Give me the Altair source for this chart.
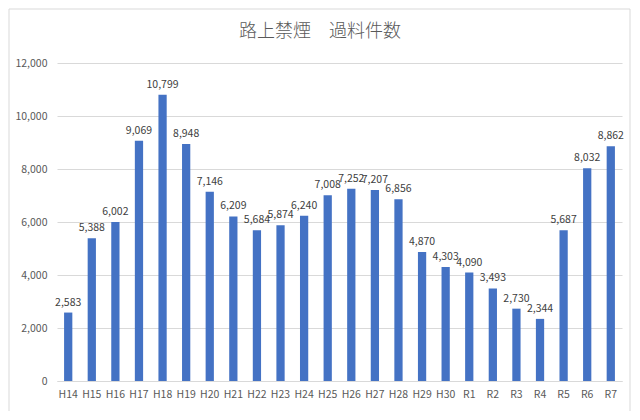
import altair as alt
import pandas as pd

years = ["H14", "H15", "H16", "H17", "H18", "H19", "H20", "H21", "H22", "H23", "H24",
         "H25", "H26", "H27", "H28", "H29", "H30", "R1", "R2", "R3", "R4", "R5", "R6", "R7"]
counts = [2583, 5388, 6002, 9069, 10799, 8948, 7146, 6209, 5684, 5874, 6240,
          7008, 7252, 7207, 6856, 4870, 4303, 4090, 3493, 2730, 2344, 5687, 8032, 8862]
title_text = ["路上禁煙　過料件数"]

df = pd.DataFrame({"year": years, "count": counts})
FONT = "Noto Sans CJK JP"

x = alt.X("year:N", sort=years, title=None,
          scale=alt.Scale(paddingInner=0.65, paddingOuter=0.3),
          axis=alt.Axis(labelAngle=0, labelFont=FONT, labelFontSize=10.5, labelColor="#595959",
                        ticks=False, domain=True, domainColor="#d9d9d9", labelPadding=8))
y = alt.Y("count:Q", title=None,
          scale=alt.Scale(domain=[0, 12000]),
          axis=alt.Axis(values=[0, 2000, 4000, 6000, 8000, 10000, 12000], format=",d",
                        labelFont=FONT, labelFontSize=10.5, labelColor="#595959",
                        ticks=False, domain=False, gridColor="#d9d9d9", labelPadding=10))

base = alt.Chart(df)
bars = base.mark_bar(color="#4472C4").encode(x=x, y=y)
labels = base.mark_text(dy=-7, baseline="alphabetic", font=FONT, fontSize=10.5,
                        color="#404040").encode(
    x=alt.X("year:N", sort=years), y="count:Q", text=alt.Text("count:Q", format=",d"))

border = alt.Chart(pd.DataFrame({"a": [0]})).mark_rect(
    fill=None, stroke="#d9d9d9", strokeWidth=1).encode(
    x=alt.value(-48), x2=alt.value(573), y=alt.value(-54), y2=alt.value(349))

title = alt.Chart(pd.DataFrame({"t": title_text})).mark_text(
    font=FONT, fontSize=18, fontWeight=300, color="#595959",
    baseline="middle", align="center").encode(
    x=alt.value(263), y=alt.value(-31), text="t:N")

chart = alt.layer(border, bars, labels, title).properties(
    width=565, height=318,
    autosize=alt.AutoSizeParams(type="none"),
    padding={"left": 49, "top": 55, "right": 10, "bottom": 30},
).configure_view(stroke=None)

chart.save("out.html", embed_options={"renderer": "svg", "actions": False})
